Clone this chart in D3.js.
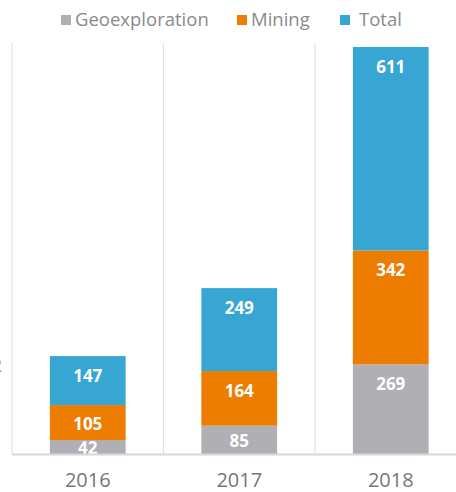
<!DOCTYPE html>
<html>
<head>
<meta charset="utf-8">
<script src="https://cdn.jsdelivr.net/npm/d3@7"></script>
<style>
  body { margin: 0; background: #fff; }
  svg { display: block; font-family: "Open Sans", "Noto Sans", sans-serif; }
</style>
</head>
<body>
<div id="chart-area"></div>
<script>
// chart values
const years = ["2016", "2017", "2018"];
const geoexploration = [42, 85, 269];
const mining = [105, 164, 342];
const total = [147, 249, 611];
const seriesNames = ["Geoexploration", "Mining", "Total"];
const colours = ["#b0afb4", "#ed7d00", "#37a6d3"];

const width = 456;
const height = 492;
const plot = { left: 12, right: 466.5, top: 43, bottom: 454 };

const svg = d3.select("#chart-area")
    .append("svg")
    .attr("width", width)
    .attr("height", height);

const rows = years.map((y, i) => ({
    year: y,
    Geoexploration: geoexploration[i],
    Mining: mining[i],
    Total: total[i]
}));

const stacked = d3.stack().keys(seriesNames)(rows);

const x = d3.scaleBand().domain(years)
    .range([plot.left, plot.right])
    .paddingInner(0.5).paddingOuter(0.25);
const y = d3.scaleLinear().domain([0, 1234]).range([plot.bottom, plot.top]);

/** Grid */
const step = x.step();
const bounds = [plot.left].concat(years.map(d => x(d) - x.paddingInner() * step / 2 + step));
svg.append("g").attr("class", "grid")
    .selectAll("line").data(bounds).enter()
    .append("line")
    .attr("x1", d => d).attr("x2", d => d)
    .attr("y1", plot.top).attr("y2", plot.bottom)
    .attr("stroke", "#e3e3e6")
    .attr("stroke-width", 1.2);

/** Bars */
const layer = svg.selectAll("g.layer").data(stacked).enter()
    .append("g")
    .attr("class", "layer")
    .attr("fill", (d, i) => colours[i]);

layer.selectAll("rect").data(d => d).enter()
    .append("rect")
    .attr("x", d => x(d.data.year))
    .attr("y", d => y(d[1]))
    .attr("width", x.bandwidth())
    .attr("height", d => y(d[0]) - y(d[1]));

layer.selectAll("text").data(d => d.map(v => ({ key: d.key, v: v }))).enter()
    .append("text")
    .attr("x", d => x(d.v.data.year) + x.bandwidth() / 2)
    .attr("y", d => {
        const top = y(d.v[1]);
        const h = y(d.v[0]) - top;
        return top + Math.min(26, h / 2 + 7);
    })
    .attr("text-anchor", "middle")
    .attr("fill", "#fff")
    .attr("font-size", "17px")
    .attr("font-weight", "bold")
    .text(d => d.v.data[d.key]);

/** Axis */
const bottomAxis = d3.axisBottom(x).tickSize(0).tickPadding(0);
const ax = svg.append("g")
    .attr("class", "bottom axis")
    .attr("transform", "translate(0," + plot.bottom + ")")
    .call(bottomAxis);
ax.select(".domain").remove();
ax.append("line")
    .attr("x1", plot.left).attr("x2", width)
    .attr("y1", 0.5).attr("y2", 0.5)
    .attr("stroke", "#d6d6dc")
    .attr("stroke-width", 2);
ax.selectAll(".tick text")
    .attr("y", 33)
    .attr("dy", 0)
    .attr("font-size", "20px")
    .attr("font-family", "\"Open Sans\", sans-serif")
    .attr("fill", "#777");

// label cut off at the left edge, as in the original
svg.append("text")
    .attr("x", 2).attr("y", 372)
    .attr("text-anchor", "end")
    .attr("font-size", "18px")
    .attr("fill", "#888")
    .text("2");

/** Legend */
const legendX = [61, 237, 340];
const legendTextX = [75, 251, 359];
const legend = svg.append("g").attr("class", "legend")
    .selectAll("g").data(seriesNames).enter()
    .append("g");
legend.append("rect")
    .attr("x", (d, i) => legendX[i])
    .attr("y", 15)
    .attr("width", 10).attr("height", 10)
    .attr("fill", (d, i) => colours[i]);
legend.append("text")
    .attr("x", (d, i) => legendTextX[i])
    .attr("y", 26)
    .attr("font-size", "18.5px")
    .attr("fill", "#8a8a8e")
    .text(d => d);
</script>
</body>
</html>
